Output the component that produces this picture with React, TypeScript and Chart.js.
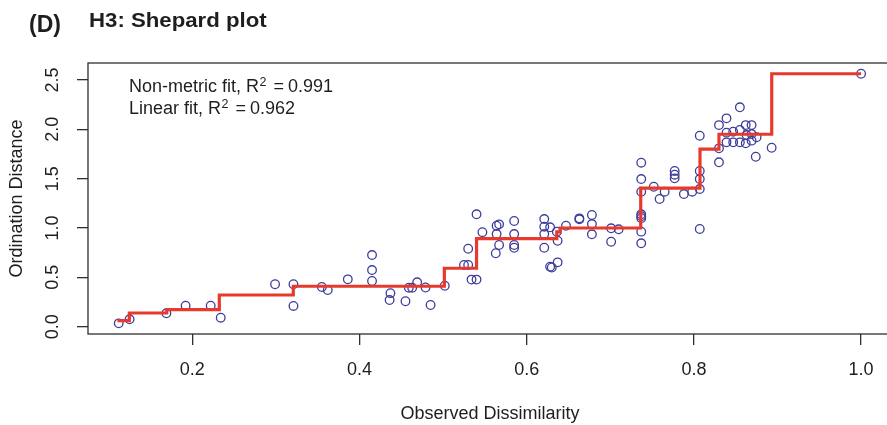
import React, { useEffect, useRef } from "react";
import { Chart, registerables } from "chart.js";

Chart.register(...registerables);

// Observed dissimilarity vs ordination distance (Shepard plot points)
const dissimilarity = [
  0.112, 0.125, 0.169, 0.192, 0.222, 0.234, 0.299, 0.321, 0.321, 0.355,
  0.362, 0.386, 0.415, 0.415, 0.415, 0.437, 0.436, 0.455, 0.459, 0.463,
  0.469, 0.479, 0.485, 0.502, 0.525, 0.530, 0.530, 0.534, 0.540, 0.540,
  0.547, 0.564, 0.567, 0.564, 0.567, 0.563, 0.585, 0.585, 0.585, 0.585,
  0.621, 0.621, 0.621, 0.621, 0.628, 0.628, 0.630, 0.637, 0.637, 0.636,
  0.647, 0.663, 0.663, 0.678, 0.678, 0.678, 0.701, 0.710, 0.701, 0.737,
  0.737, 0.737, 0.737, 0.737, 0.737, 0.737, 0.737, 0.752, 0.765, 0.759,
  0.777, 0.777, 0.777, 0.788, 0.798, 0.807, 0.807, 0.807, 0.807, 0.807,
  0.830, 0.839, 0.855, 0.830, 0.830, 0.839, 0.847, 0.855, 0.862, 0.869,
  0.839, 0.847, 0.855, 0.862, 0.869, 0.863, 0.869, 0.875, 0.874, 0.893,
  1.0,
];
const ordinationDistance = [
  0.034, 0.075, 0.136, 0.213, 0.213, 0.091, 0.430, 0.430, 0.210, 0.402,
  0.372, 0.480, 0.726, 0.574, 0.463, 0.340, 0.270, 0.258, 0.395, 0.395,
  0.450, 0.397, 0.220, 0.415, 0.625, 0.625, 0.790, 0.477, 0.477, 1.139,
  0.958, 1.023, 1.037, 0.939, 0.828, 0.744, 1.071, 0.939, 0.828, 0.800,
  1.091, 1.013, 0.939, 0.800, 1.007, 0.608, 0.600, 0.652, 0.871, 0.963,
  1.023, 1.098, 1.088, 1.132, 1.040, 0.936, 0.997, 0.987, 0.861, 1.662,
  1.496, 1.368, 1.139, 1.119, 1.100, 0.963, 0.845, 1.418, 1.368, 1.294,
  1.578, 1.540, 1.503, 1.344, 1.368, 1.395, 1.496, 1.578, 1.935, 0.990,
  2.043, 2.111, 2.223, 1.807, 1.666, 1.966, 1.976, 1.993, 2.043, 2.043,
  1.868, 1.868, 1.868, 1.858, 1.885, 1.942, 1.952, 1.919, 1.722, 1.813,
  2.563,
];

// Non-metric (monotone) fit, stair-step
const fitDissimilarity = [
  0.1104, 0.1247, 0.1694, 0.2323, 0.3208, 0.5015, 0.54, 0.636, 0.64,
  0.7364, 0.8073, 0.83, 0.8931, 1.0,
];
const fitDistance = [
  0.062, 0.139, 0.172, 0.321, 0.41, 0.592, 0.892, 0.96, 1.0, 1.405, 1.8,
  1.95, 2.563, 2.563,
];

const xTicks = [0.2, 0.4, 0.6, 0.8, 1.0];
const xTickLabels = ["0.2", "0.4", "0.6", "0.8", "1.0"];
const yTicks = [0, 0.5, 1.0, 1.5, 2.0, 2.5];
const yTickLabels = ["0.0", "0.5", "1.0", "1.5", "2.0", "2.5"];

const panelLabel = "(D)";
const titleText = "H3: Shepard plot";
const xTitle = "Observed Dissimilarity";
const yTitle = "Ordination Distance";
const fitNames = ["Non-metric fit, R", "Linear fit, R"];
const fitValues = ["0.991", "0.962"];

const FONT = '"Liberation Sans", Arial, Helvetica, sans-serif';
const TEXT = "#1e1e1e";
const AXIS = "#2e2e2e";

const CANVAS_W = 900;
const CANVAS_H = 425;

const decorPlugin = {
  id: "decor",
  afterDraw(chart: any) {
    const { ctx, chartArea: a, scales } = chart;
    const xs = scales.x;
    const ys = scales.y;
    ctx.save();
    // plot frame (its right side lies beyond the visible page)
    ctx.strokeStyle = AXIS;
    ctx.lineWidth = 1.3;
    ctx.strokeRect(a.left, a.top, a.right - a.left, a.bottom - a.top);

    ctx.fillStyle = TEXT;
    ctx.font = `18px ${FONT}`;
    ctx.textAlign = "center";
    ctx.textBaseline = "alphabetic";
    // x tick labels
    xTicks.forEach((v, i) => {
      ctx.fillText(xTickLabels[i], xs.getPixelForValue(v), 375);
    });
    // y tick labels (rotated)
    yTicks.forEach((v, i) => {
      ctx.save();
      ctx.translate(57.5, ys.getPixelForValue(v));
      ctx.rotate(-Math.PI / 2);
      ctx.fillText(yTickLabels[i], 0, 0);
      ctx.restore();
    });
    // axis titles
    ctx.fillText(xTitle, 490, 419);
    ctx.save();
    ctx.translate(21.5, (a.top + a.bottom) / 2);
    ctx.rotate(-Math.PI / 2);
    ctx.fillText(yTitle, 0, 0);
    ctx.restore();

    // panel label and title
    ctx.textAlign = "left";
    ctx.font = `bold 23px ${FONT}`;
    ctx.fillText(panelLabel, 29, 31.5);
    ctx.save();
    ctx.font = `bold 20px ${FONT}`;
    ctx.translate(89, 27);
    ctx.scale(1.11, 1);
    ctx.fillText(titleText, 0, 0);
    ctx.restore();

    // fit annotations
    const baselines = [92, 114];
    fitNames.forEach((name, i) => {
      const y = baselines[i];
      let x = 129;
      ctx.font = `18px ${FONT}`;
      ctx.fillText(name, x, y);
      x += ctx.measureText(name).width + 0.5;
      ctx.font = `12.5px ${FONT}`;
      ctx.fillText("2", x, y - 6);
      x += ctx.measureText("2").width + 7;
      ctx.font = `18px ${FONT}`;
      ctx.fillText("=", x, y);
      x += ctx.measureText("=").width + 4;
      ctx.fillText(fitValues[i], x, y);
    });
    ctx.restore();
  },
};

export default function App() {
  const canvasRef = useRef<HTMLCanvasElement | null>(null);

  useEffect(() => {
    const canvas = canvasRef.current;
    if (!canvas) return;
    const points = dissimilarity.map((x, i) => ({ x, y: ordinationDistance[i] }));
    const fit = fitDissimilarity.map((x, i) => ({ x, y: fitDistance[i] }));

    const tickGrid = () => ({
      display: true,
      drawOnChartArea: false,
      drawTicks: true,
      tickLength: 11,
      color: AXIS,
      lineWidth: 1.3,
    });

    const chart = new Chart(canvas, {
      type: "scatter",
      data: {
        datasets: [
          {
            type: "line",
            data: fit,
            stepped: "before",
            borderColor: "#e83a2c",
            borderWidth: 3.2,
            pointRadius: 0,
            fill: false,
            showLine: true,
          } as any,
          {
            type: "scatter",
            data: points,
            pointStyle: "circle",
            pointRadius: 4.3,
            borderWidth: 1.3,
            borderColor: "#3d3d9c",
            backgroundColor: "rgba(0,0,0,0)",
          } as any,
        ],
      },
      options: {
        animation: false,
        responsive: false,
        maintainAspectRatio: false,
        layout: { autoPadding: false, padding: { top: 63, left: 0, right: 9.2, bottom: 0 } },
        plugins: { legend: { display: false }, tooltip: { enabled: false }, title: { display: false } },
        scales: {
          x: {
            type: "linear",
            min: 0.07524,
            max: 1.03553,
            border: { display: false },
            grid: tickGrid(),
            ticks: { display: false },
            afterBuildTicks: (s: any) => {
              s.ticks = xTicks.map((v) => ({ value: v }));
            },
            afterFit: (s: any) => {
              s.height = 91;
            },
          },
          y: {
            type: "linear",
            min: -0.074,
            max: 2.672,
            border: { display: false },
            grid: tickGrid(),
            ticks: { display: false },
            afterBuildTicks: (s: any) => {
              s.ticks = yTicks.map((v) => ({ value: v }));
            },
            afterFit: (s: any) => {
              s.width = 88;
            },
          },
        },
      } as any,
      plugins: [decorPlugin],
    });
    return () => chart.destroy();
  }, []);

  return (
    <div style={{ position: "fixed", left: 0, top: 0, width: 887, height: 425, background: "#fff", overflow: "hidden" }}>
      <canvas ref={canvasRef} width={CANVAS_W} height={CANVAS_H} style={{ display: "block" }} />
    </div>
  );
}
